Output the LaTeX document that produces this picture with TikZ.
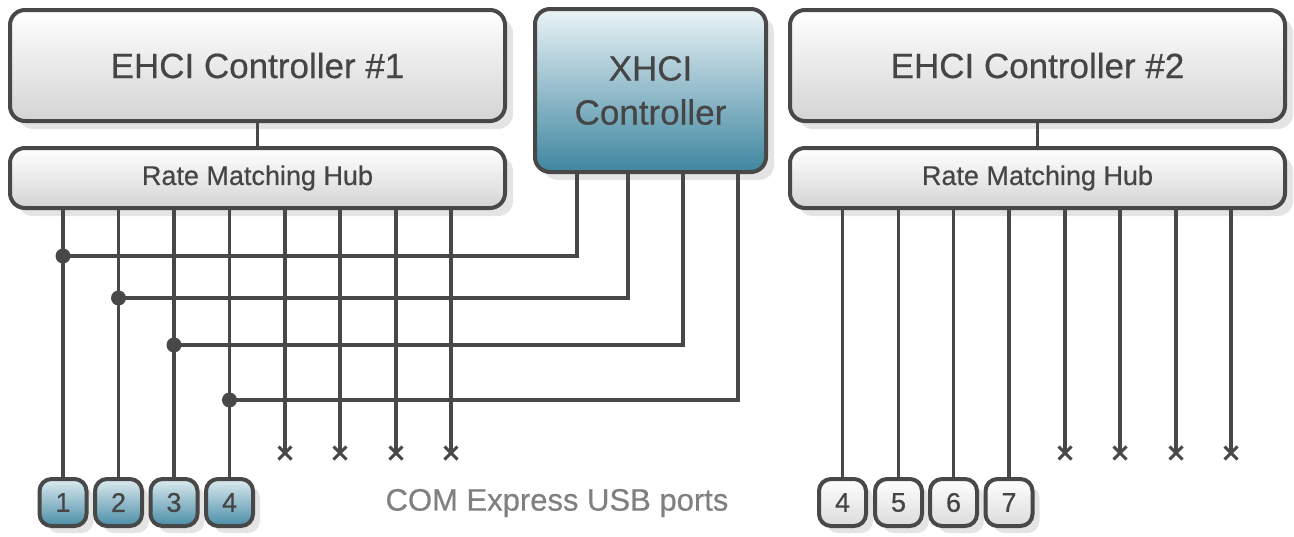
\documentclass[tikz,border=0pt]{standalone}
\usepackage{fontspec}
\setmainfont{Liberation Sans}[FakeBold=0.5]
\newfontfamily\heavy{Liberation Sans}[FakeBold=0.5]
\usetikzlibrary{shadows,calc}
\definecolor{ln}{HTML}{484848}
\definecolor{txt}{HTML}{454545}
\definecolor{shd}{HTML}{E4E4E4}
\definecolor{bluetop}{HTML}{EAF3F6}
\definecolor{bluebot}{HTML}{3E86A0}
\definecolor{pbtop}{HTML}{DCEBF0}
\definecolor{pbbot}{HTML}{4A8DA7}
\tikzset{
  box/.style={draw=ln, line width=4pt, rounded corners=15pt, top color=white, bottom color=black!17,
    inner sep=0pt, text=txt, align=center,
    general shadow={fill=shd, shadow xshift=8pt, shadow yshift=-8pt}},
  xbox/.style={box, top color=bluetop, bottom color=bluebot},
  port/.style={draw=ln, line width=4pt, rounded corners=12pt, top color=white, bottom color=black!14,
    inner sep=0pt, text=txt, minimum width=47pt, minimum height=47pt,
    font=\heavy\fontsize{27}{27}\selectfont,
    general shadow={fill=shd, shadow xshift=7pt, shadow yshift=-7pt}},
  bport/.style={port, top color=pbtop, bottom color=pbbot},
  wire/.style={draw=ln, line width=3.5pt},
  dot/.style={circle, fill=ln, inner sep=0pt, minimum size=15pt},
  xmark/.style={draw=ln, line width=3pt},
}
\begin{document}
\begin{tikzpicture}[x=1pt, y=-1pt]
\useasboundingbox (0,0) rectangle (1294,536);
% boxes
\node[box, minimum width=495pt, minimum height=111pt, font=\heavy\fontsize{35}{44}\selectfont] (e1) at (257.5,65.5) {EHCI Controller \#1};
\node[box, minimum width=495pt, minimum height=60pt, font=\heavy\fontsize{27}{30}\selectfont] (h1) at (257.5,178) {Rate Matching Hub};
\node[xbox, minimum width=231pt, minimum height=163pt, font=\heavy\fontsize{35}{44}\selectfont] (xhci) at (650.5,90.5) {XHCI\\Controller};
\node[box, minimum width=495pt, minimum height=111pt, font=\heavy\fontsize{35}{44}\selectfont] (e2) at (1037.5,65.5) {EHCI Controller \#2};
\node[box, minimum width=495pt, minimum height=60pt, font=\heavy\fontsize{27}{30}\selectfont] (h2) at (1037.5,178) {Rate Matching Hub};
\draw[wire] (e1) -- (h1);
\draw[wire] (e2) -- (h2);
% ports
\node[bport] (p1) at (63,502.5) {1};
\node[bport] (p2) at (118.5,502.5) {2};
\node[bport] (p3) at (174,502.5) {3};
\node[bport] (p4) at (229.5,502.5) {4};
\node[port] (q4) at (842.5,502.5) {4};
\node[port] (q5) at (898.5,502.5) {5};
\node[port] (q6) at (953.5,502.5) {6};
\node[port] (q7) at (1009,502.5) {7};
\node[text=black!50, font=\heavy\fontsize{31}{31}\selectfont] (lbl) at (557,503) {COM Express USB ports};
% unused ends
\foreach \n/\x in {1/285,2/340,3/396,4/451,5/1065,6/1120,7/1176,8/1231}{
  \coordinate (u\n) at (\x,453);
}
\foreach \n in {1,2,3,4}{
  \draw[wire] (u\n |- h1.south) -- (u\n);
  \draw[xmark] ($(u\n)+(-6.5,-6.5)$) -- ($(u\n)+(6.5,6.5)$) ($(u\n)+(-6.5,6.5)$) -- ($(u\n)+(6.5,-6.5)$);
}
\foreach \n in {5,6,7,8}{
  \draw[wire] (u\n |- h2.south) -- (u\n);
  \draw[xmark] ($(u\n)+(-6.5,-6.5)$) -- ($(u\n)+(6.5,6.5)$) ($(u\n)+(-6.5,6.5)$) -- ($(u\n)+(6.5,-6.5)$);
}
% port wires
\foreach \p in {p1,p2,p3,p4}{ \draw[wire] (\p |- h1.south) -- (\p.north); }
\foreach \p in {q4,q5,q6,q7}{ \draw[wire] (\p |- h2.south) -- (\p.north); }
% xhci wires
\coordinate (j1) at (63,256);
\coordinate (j2) at (118.5,298);
\coordinate (j3) at (174,345);
\coordinate (j4) at (229.5,400);
\coordinate (k1) at (577,256);
\coordinate (k2) at (628,298);
\coordinate (k3) at (683,345);
\coordinate (k4) at (738,400);
\foreach \i in {1,2,3,4}{
  \draw[wire] (k\i |- xhci.south) -- (k\i) -- (j\i);
  \node[dot] (d\i) at (j\i) {};
}
\end{tikzpicture}
\end{document}
